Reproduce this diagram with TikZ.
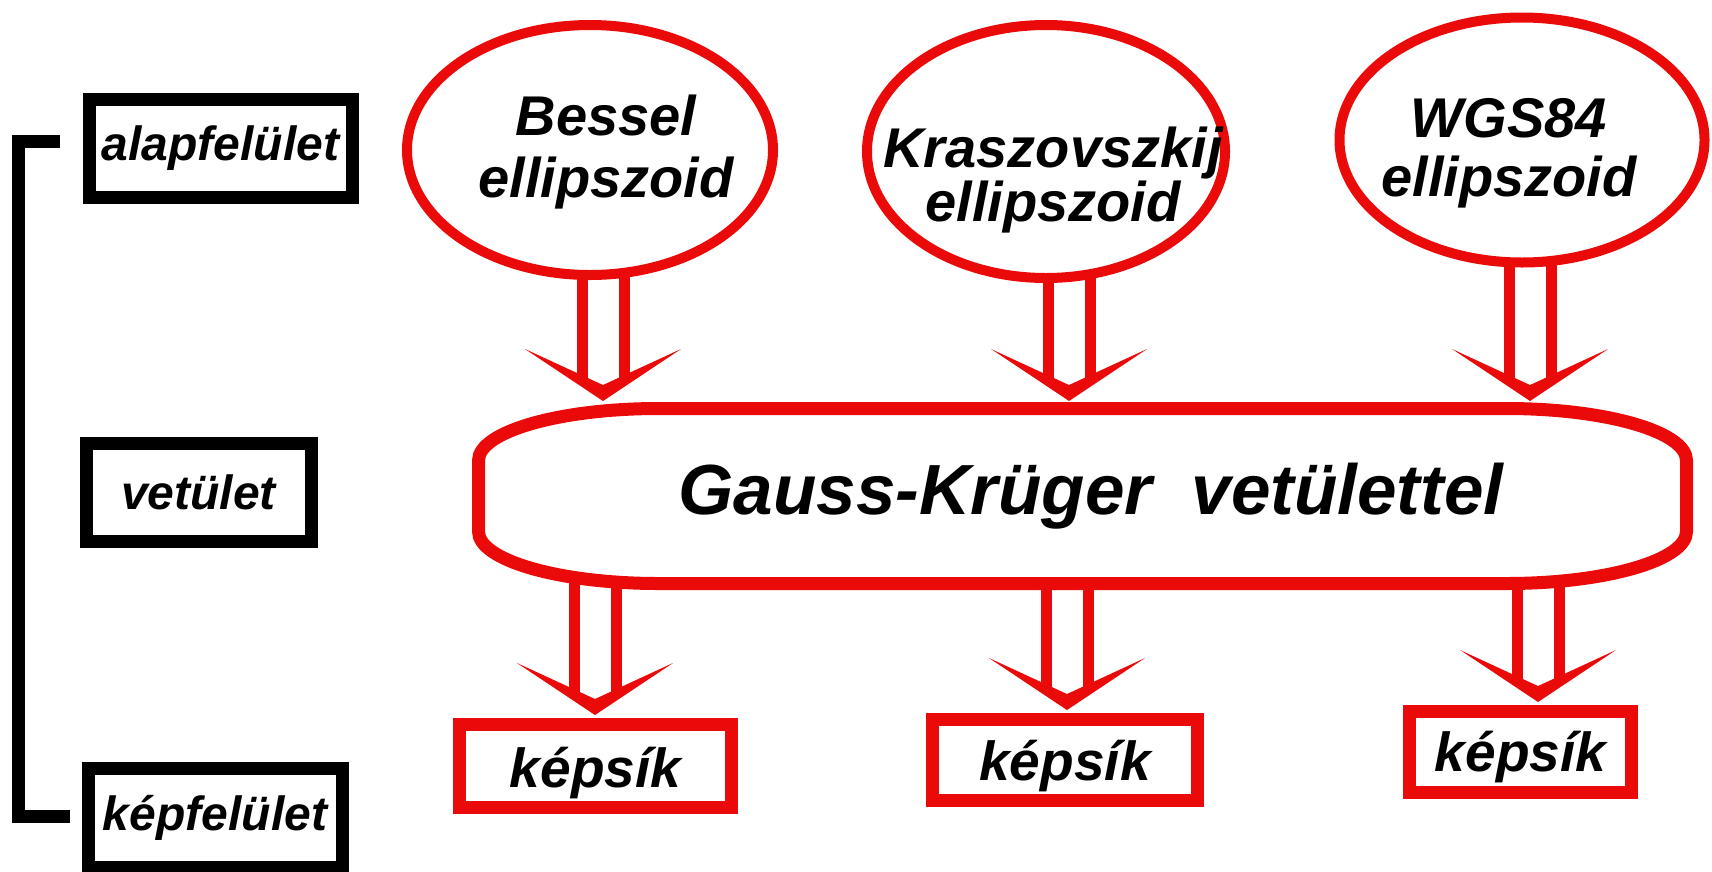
\documentclass[tikz,border=0pt]{standalone}
\usepackage{fontspec}
\setmainfont{Liberation Sans}
\usetikzlibrary{shapes.geometric,calc}
\definecolor{rd}{RGB}{235,10,10}
\newcommand\dblarr[2]{%
  \draw[shaft] ($(#1 -| #2)+(-21,3)$) -- ($(#2)+(-21,20)$);
  \draw[shaft] ($(#1 -| #2)+(21,3)$) -- ($(#2)+(21,20)$);
  \fill[rd] ($(#2)+(-78,52)$) -- (#2) -- ($(#2)+(78,52)$) -- ($(#2)+(0,16)$) -- cycle;}
\newcommand\lowtext[2]{\raisebox{-#1pt}[0pt][0pt]{#2}}
\begin{document}
\begin{tikzpicture}[x=1pt,y=1pt,
  lbl/.style={font=\fontsize{48}{50}\selectfont\bfseries\itshape},
  blackbox/.style={lbl,draw=black,line width=13pt,fill=white,inner sep=0pt,outer sep=0pt},
  ell/.style={ellipse,draw=rd,line width=10pt,fill=white,inner sep=0pt,outer sep=0pt},
  etext/.style={font=\fontsize{56}{#1}\selectfont\bfseries\itshape,align=center,inner sep=0pt},
  etext/.default=60,
  redbox/.style={draw=rd,line width=13pt,fill=white,inner sep=0pt,outer sep=0pt,
    font=\fontsize{55}{58}\selectfont\bfseries\itshape},
  shaft/.style={draw=rd,line width=11pt},
  gborder/.style={draw=rd,line width=13pt,fill=white}]
\useasboundingbox (0,0) rectangle (1712,-871);

% left labels
\node[blackbox,minimum width=263pt,minimum height=98pt] (alap) at (220.5,-148) {alapfelület};
\node[blackbox,minimum width=225pt,minimum height=98pt] (vet) at (198.5,-492) {vetület};
\node[blackbox,minimum width=254pt,minimum height=99pt] (kepf) at (215,-818) {képfelület};
\coordinate (bt) at (60,-141.5);
\coordinate (bb) at (70,-816.5);
\draw[black,line width=13pt] (bt) -- (18.5,-141.5) -- (18.5,-816.5) -- (bb);

% ellipses
\node[ell,minimum width=366pt,minimum height=250pt] (bessel) at (590,-150) {};
\node[etext=62] (besselt) at (606,-152) {Bessel\\ellipszoid};
\node[ell,minimum width=358pt,minimum height=253pt] (krasz) at (1046,-151.5) {};
\node[etext=50] (kraszt) at (1053,-180) {Kraszovszkij\\ellipszoid};
\node[ell,minimum width=365pt,minimum height=245pt] (wgs) at (1522,-140) {};
\node[etext=59] (wgst) at (1509,-153) {WGS84\\ellipszoid};

% Gauss-Krueger shape
\draw[gborder] (658.5,-408.5) -- (1506.5,-408.5)
  arc[start angle=90,end angle=0,x radius=180,y radius=52] -- (1686.5,-531.5)
  arc[start angle=0,end angle=-90,x radius=180,y radius=52] -- (658.5,-583.5)
  arc[start angle=270,end angle=180,x radius=180,y radius=52] -- (478.5,-460.5)
  arc[start angle=180,end angle=90,x radius=180,y radius=52] -- cycle;
\node[font=\fontsize{71}{75}\selectfont\bfseries\itshape,minimum width=1208pt,
  minimum height=175pt,inner sep=0pt,outer sep=0pt] (gauss) at (1082.5,-496)
  {\hspace*{17pt}Gauss-Krüger\ \ vetülettel};

% bottom boxes
\node[redbox,minimum width=272pt,minimum height=83pt] (k1) at (595.5,-766) {\lowtext{21}{képsík}};
\node[redbox,minimum width=265pt,minimum height=81pt] (k2) at (1065,-760) {\lowtext{20}{képsík}};
\node[redbox,minimum width=222pt,minimum height=81pt] (k3) at (1520.5,-752) {\lowtext{19}{képsík}};

% arrows
\coordinate (t1) at (603,-401);
\coordinate (t2) at (1069,-401);
\coordinate (t3) at (1530,-401);
\coordinate (b1) at (595,-715);
\coordinate (b2) at (1067,-710);
\coordinate (b3) at (1538,-702);
\dblarr{bessel.south}{t1}
\dblarr{krasz.south}{t2}
\dblarr{wgs.south}{t3}
\dblarr{gauss.south}{b1}
\dblarr{gauss.south}{b2}
\dblarr{gauss.south}{b3}
\end{tikzpicture}
\end{document}
